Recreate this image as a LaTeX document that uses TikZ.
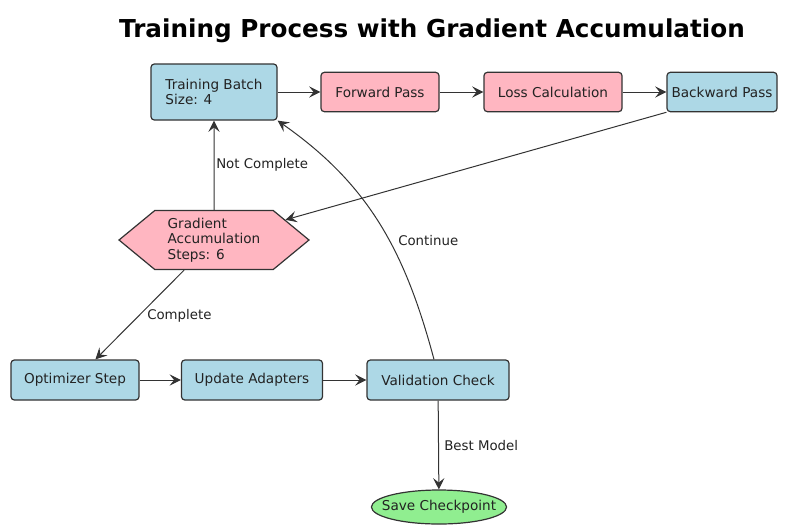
\documentclass[tikz,border=0pt]{standalone}
\usepackage{fontspec}
\setmainfont{DejaVu Sans}
\usetikzlibrary{arrows.meta,shapes.symbols,shapes.geometric}

\definecolor{boxblue}{RGB}{173,216,230}
\definecolor{boxpink}{RGB}{255,182,193}
\definecolor{boxgreen}{RGB}{144,238,144}
\definecolor{edgegray}{RGB}{51,51,51}
\definecolor{textgray}{RGB}{34,34,34}

\begin{document}
\begin{tikzpicture}[x=0.75pt,y=-0.75pt,
  box/.style={draw=edgegray,line width=0.9pt,rounded corners=2.5pt,minimum height=29.5pt,inner sep=0pt,text=textgray,font=\fontsize{10.2}{11.6}\selectfont},
  flow/.style={-{Stealth[length=8.5pt,width=8.5pt,inset=3.4pt]},line width=0.75pt,draw=edgegray},
  lbl/.style={font=\fontsize{10}{11.6}\selectfont,text=textgray,inner sep=0pt}]
  \useasboundingbox (0,0) rectangle (792,526);
  \node[font=\fontsize{18.5}{22}\selectfont\bfseries] (title) at (432,31) {Training Process with Gradient Accumulation};
  \node[box,fill=boxblue,minimum width=94.5pt,minimum height=42pt,align=left] (train) at (214,92) {Training Batch\\Size: 4};
  \node[box,fill=boxpink,minimum width=88.5pt] (fwd) at (380,92) {Forward Pass};
  \node[box,fill=boxpink,minimum width=103.5pt] (loss) at (553,92) {Loss Calculation};
  \node[box,fill=boxblue,minimum width=82.5pt] (back) at (722,92) {Backward Pass};
  \node[signal,signal to=west and east,signal pointer angle=79,draw=edgegray,line width=0.9pt,fill=boxpink,text=textgray,font=\fontsize{10.2}{11.6}\selectfont,align=left,minimum width=142.5pt,minimum height=44.25pt,inner sep=0pt] (grad) at (214,240) {Gradient\\Accumulation\\Steps: 6};
  \node[box,fill=boxblue,minimum width=96pt,minimum height=30pt] (opt) at (75,380) {Optimizer Step};
  \node[box,fill=boxblue,minimum width=105.75pt,minimum height=30pt] (upd) at (252,380) {Update Adapters};
  \node[box,fill=boxblue,minimum width=106.5pt,minimum height=30pt] (val) at (438,380) {Validation Check};
  \node[ellipse,draw=edgegray,line width=0.9pt,fill=boxgreen,text=textgray,font=\fontsize{10.2}{11.6}\selectfont,minimum width=97.5pt,minimum height=25.5pt,inner xsep=-7pt,inner ysep=0pt] (save) at (439,507) {Save Checkpoint};

  \draw[flow] (train) -- (fwd);
  \draw[flow] (fwd) -- (loss);
  \draw[flow] (loss) -- (back);
  \draw[flow] (back.south west) -- (grad);
  \draw[flow] (grad) -- (train);
  \draw[flow] (grad) -- (opt);
  \draw[flow] (opt) -- (upd);
  \draw[flow] (upd) -- (val);
  \draw[flow] ([xshift=-3pt]val.north) to[out=105,in=-35] (train.south east);
  \draw[flow] (val) -- (save);

  \node[lbl,anchor=west] (notdone) at (216,165) {Not Complete};
  \node[lbl,anchor=west] (done) at (147,316) {Complete};
  \node[lbl,anchor=west] (cont) at (398,241) {Continue};
  \node[lbl,anchor=west] (best) at (444,446) {Best Model};
\end{tikzpicture}
\end{document}
